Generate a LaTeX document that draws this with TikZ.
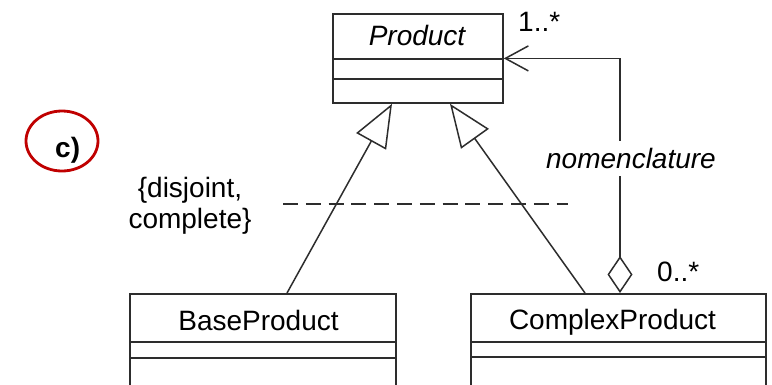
\documentclass[tikz,border=0pt]{standalone}
\usepackage{fontspec}
\setmainfont{Liberation Sans}
\usetikzlibrary{arrows.meta,calc,shapes.geometric}
\definecolor{ink}{RGB}{45,45,45}
\definecolor{marker}{RGB}{192,0,0}
\newcommand{\umlfont}{\fontsize{28}{31}\selectfont}
\tikzset{
  classbox/.style={draw=ink, line width=1.8pt, fill=white, inner sep=0pt, anchor=north west},
  compline/.style={draw=ink, line width=1.8pt},
  classname/.style={font=\umlfont, inner sep=0pt, anchor=base},
  txt/.style={font=\umlfont, inner sep=0pt},
  gen/.style={draw=ink, line width=1.5pt, -{Triangle[open, length=43pt, width=34pt]}},
  assoc/.style={draw=ink, line width=1.5pt},
  setline/.style={draw=ink, line width=1.5pt, dash pattern=on 15pt off 7.8pt}
}
\begin{document}
\begin{tikzpicture}[x=1pt,y=-1pt]
  \fill[white] (0,0) rectangle (772,384);
  \clip (0,0) rectangle (772,384);

  % class boxes
  \node[classbox, minimum width=170pt, minimum height=89pt] (product) at (332,13) {};
  \draw[compline] ([yshift=-46pt]product.north west) -- ([yshift=-46pt]product.north east);
  \draw[compline] ([yshift=-66pt]product.north west) -- ([yshift=-66pt]product.north east);
  \node[classname, font=\umlfont\itshape] (productname) at (417,45) {Product};

  \node[classbox, minimum width=266pt, minimum height=120pt] (base) at (129,293) {};
  \draw[compline] ([yshift=-49pt]base.north west) -- ([yshift=-49pt]base.north east);
  \draw[compline] ([yshift=-65pt]base.north west) -- ([yshift=-65pt]base.north east);
  \node[classname] (basename) at (258.5,330) {BaseProduct};

  \node[classbox, minimum width=295pt, minimum height=120pt] (complex) at (470,293) {};
  \draw[compline] ([yshift=-49pt]complex.north west) -- ([yshift=-49pt]complex.north east);
  \draw[compline] ([yshift=-64pt]complex.north west) -- ([yshift=-64pt]complex.north east);
  \node[classname] (complexname) at (612.5,329) {ComplexProduct};

  % generalizations
  \draw[gen] ([xshift=158pt]base.north west) -- ([xshift=60pt]product.south west);
  \draw[gen] ([xshift=115pt]complex.north west) -- ([xshift=118pt]product.south west);

  % generalization set constraint
  \coordinate (dashL) at (283,204);
  \coordinate (dashR) at (568,204);
  \draw[setline] (dashL) -- (dashR);
  \node[txt, anchor=base, align=center] (constraint) at (190,228) {\{disjoint,\\complete\}};

  % aggregation
  \draw[assoc, {Diamond[open, length=37pt, width=25pt]}-{Straight Barb[length=23pt, width=25pt]}]
    ([xshift=150pt]complex.north west) |- (product.east);
  \node[txt, fill=white, minimum height=35pt] (role) at (631,158) {\itshape nomenclature};
  \node[txt, anchor=base west] (multone) at (518,31) {1..*};
  \node[txt, anchor=base west] (multzero) at (657,281) {0..*};

  % figure tag
  \node[draw=marker, line width=2.8pt, ellipse, minimum width=72pt, minimum height=60pt, inner sep=0pt] (tag) at (62,141) {};
  \node[txt, anchor=base west, font=\umlfont\bfseries] (taglabel) at (55,157) {c)};
\end{tikzpicture}
\end{document}
